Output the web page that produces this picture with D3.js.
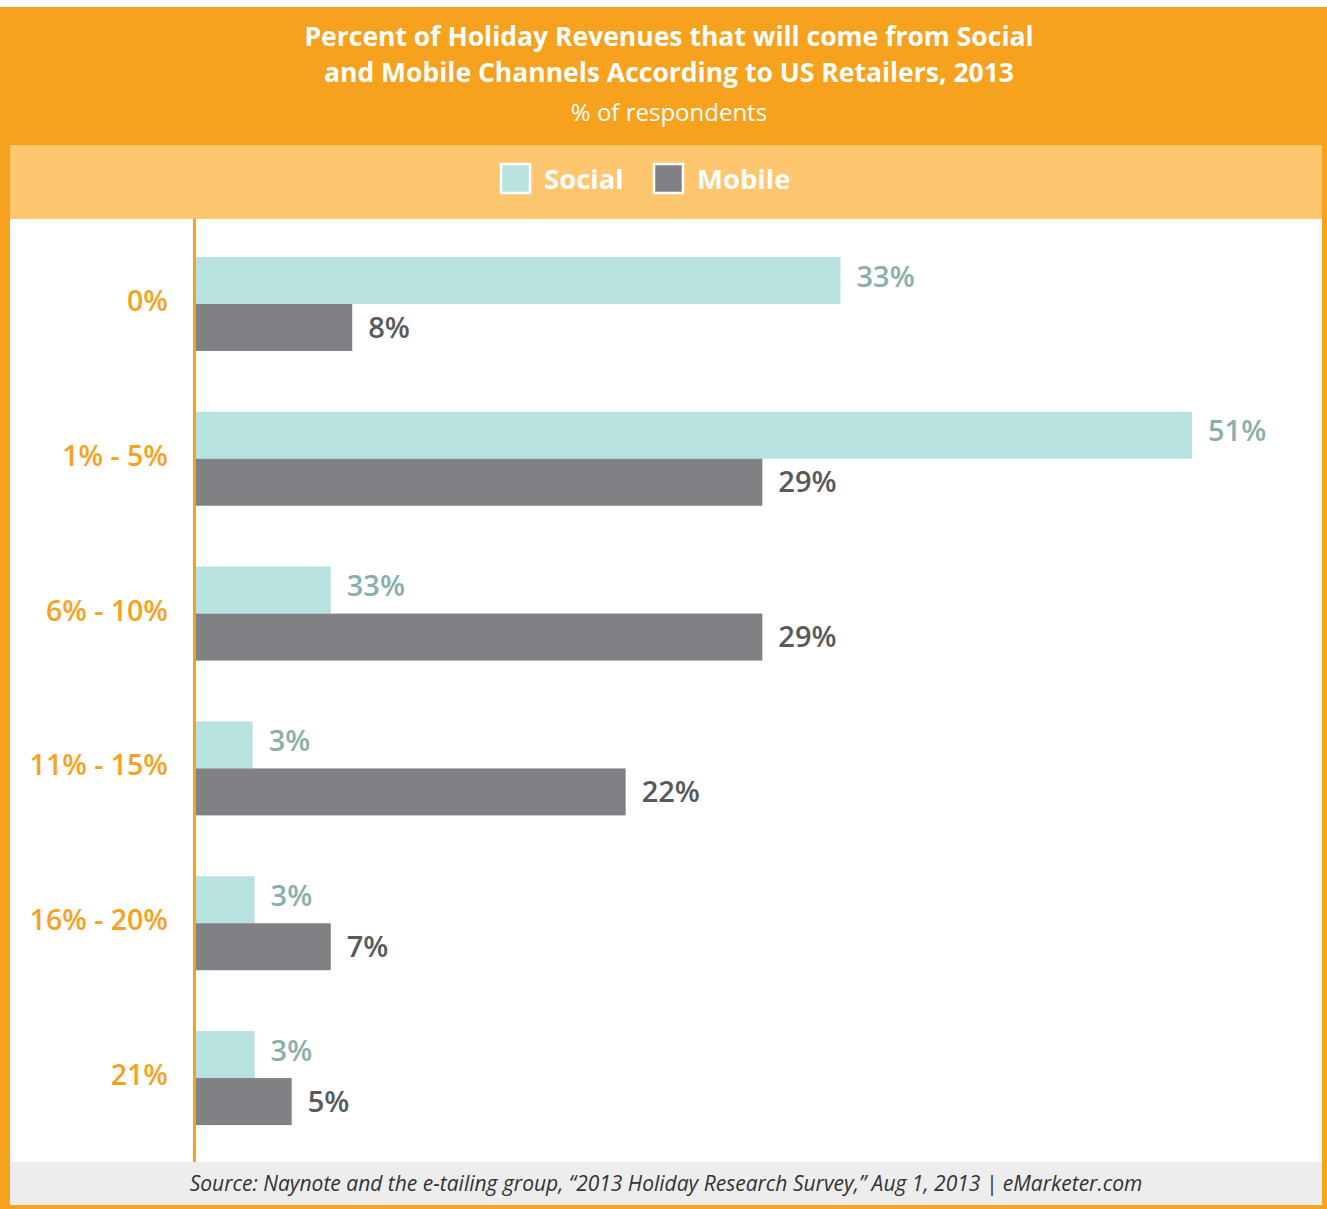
<!DOCTYPE html>
<html>
<head>
<meta charset="utf-8">
<script src="https://cdnjs.cloudflare.com/ajax/libs/d3/7.8.5/d3.min.js"></script>
<style>
  html, body { margin: 0; padding: 0; background: #fff; }
  svg { display: block; font-family: "Open Sans", Lato, sans-serif; }
</style>
</head>
<body>
<svg id="chart"></svg>
<script>
const categories = ["0%", "1% - 5%", "6% - 10%", "11% - 15%", "16% - 20%", "21%"];
// bar lengths as drawn in the picture
const socialValues = [33, 51, 6.9, 2.9, 3, 3];
const mobileValues = [8, 29, 29, 22, 6.9, 4.9];
// labels as printed next to the bars
const socialLabels = ["33%", "51%", "33%", "3%", "3%", "3%"];
const mobileLabels = ["8%", "29%", "29%", "22%", "7%", "5%"];
const seriesNames = ["Social", "Mobile"];
const titleLines = ["Percent of Holiday Revenues that will come from Social",
                    "and Mobile Channels According to US Retailers, 2013"];
const subtitle = "% of respondents";
const source = "Source: Naynote and the e-tailing group, \u201c2013 Holiday Research Survey,\u201d Aug 1, 2013 | eMarketer.com";

const width = 1327;
const height = 1209;
const orange = "#F7A21E";
const colors = { Social: "#B8E2E0", Mobile: "#808184" };

let svg = d3.select("#chart")
            .attr("width", width)
            .attr("height", height);

// frame + header
svg.append("rect").attr("x", 0).attr("y", 7).attr("width", width).attr("height", height - 7).attr("fill", orange);
svg.append("rect").attr("x", 10).attr("y", 145).attr("width", 1312).attr("height", 74).attr("fill", "#FEC66F");
svg.append("rect").attr("x", 10).attr("y", 219).attr("width", 1312).attr("height", 943).attr("fill", "#fff");
svg.append("rect").attr("x", 10).attr("y", 1162).attr("width", 1312).attr("height", 43).attr("fill", "#ECEDEC");

//title
svg.selectAll(".title")
  .data(titleLines)
  .enter()
  .append("text")
    .attr("x", 669)
    .attr("y", (d, i) => 46 + i * 36)
    .attr("text-anchor", "middle")
    .style("font-size", "26.5px")
    .style("font-weight", "bold")
    .style("fill", "#fff")
    .text(d => d);

svg.append("text")
  .attr("x", 669)
  .attr("y", 121)
  .attr("text-anchor", "middle")
  .style("font-size", "24px")
  .style("fill", "#fff")
  .text(subtitle);

//legend
let legend = svg.selectAll(".legend")
  .data(seriesNames)
  .enter()
  .append("g")
    .attr("transform", (d, i) => `translate(${[501, 654][i]},164)`);

legend.append("rect")
  .attr("width", 29)
  .attr("height", 29)
  .attr("fill", d => colors[d])
  .attr("stroke", "#fff")
  .attr("stroke-width", 2.5);

legend.append("text")
  .attr("x", 43)
  .attr("y", 25)
  .style("font-size", "27.5px")
  .style("font-weight", "bold")
  .style("fill", "#fff")
  .text(d => d);

//scales
let x = d3.scaleLinear()
          .domain([0, 51])
          .range([196, 1192]);

let y = d3.scaleBand()
          .domain(categories)
          .range([226.6, 1155.4])
          .paddingInner(0.393)
          .paddingOuter(0.196);

let ySeries = d3.scaleBand()
                .domain(seriesNames)
                .range([0, y.bandwidth()]);

let rows = categories.map((c, i) => ({
  category: c,
  bars: [
    { series: "Social", value: socialValues[i], label: socialLabels[i] },
    { series: "Mobile", value: mobileValues[i], label: mobileLabels[i] }
  ]
}));

let groups = svg.selectAll(".group")
  .data(rows)
  .enter()
  .append("g")
    .attr("transform", d => `translate(0,${y(d.category)})`);

groups.selectAll("rect")
  .data(d => d.bars)
  .enter()
  .append("rect")
    .attr("x", x(0))
    .attr("y", d => ySeries(d.series))
    .attr("width", d => x(d.value) - x(0))
    .attr("height", ySeries.bandwidth())
    .attr("fill", d => colors[d.series]);

groups.selectAll(".val")
  .data(d => d.bars)
  .enter()
  .append("text")
    .attr("x", d => x(d.value) + 16)
    .attr("y", d => ySeries(d.series) + ySeries.bandwidth() / 2 + (d.series === "Social" ? -4 : 0))
    .attr("dy", "0.35em")
    .style("font-size", "29px")
    .style("font-weight", "600")
    .style("fill", d => d.series === "Social" ? "#8AAFAB" : "#58595B")
    .text(d => d.label);

//category labels
svg.selectAll(".cat")
  .data(categories)
  .enter()
  .append("text")
    .attr("x", 168)
    .attr("y", d => y(d) + y.bandwidth() / 2 - 3)
    .attr("dy", "0.35em")
    .attr("text-anchor", "end")
    .style("font-size", "28.5px")
    .style("font-weight", "600")
    .style("fill", orange)
    .text(d => d);

//axis line
svg.append("line")
  .attr("x1", 194.5).attr("x2", 194.5)
  .attr("y1", 219).attr("y2", 1162)
  .attr("stroke", orange)
  .attr("stroke-width", 3);

//source
svg.append("text")
  .attr("x", 666)
  .attr("y", 1191)
  .attr("text-anchor", "middle")
  .style("font-size", "21px")
  .style("font-style", "italic")
  .style("fill", "#333")
  .text(source);
</script>
</body>
</html>
